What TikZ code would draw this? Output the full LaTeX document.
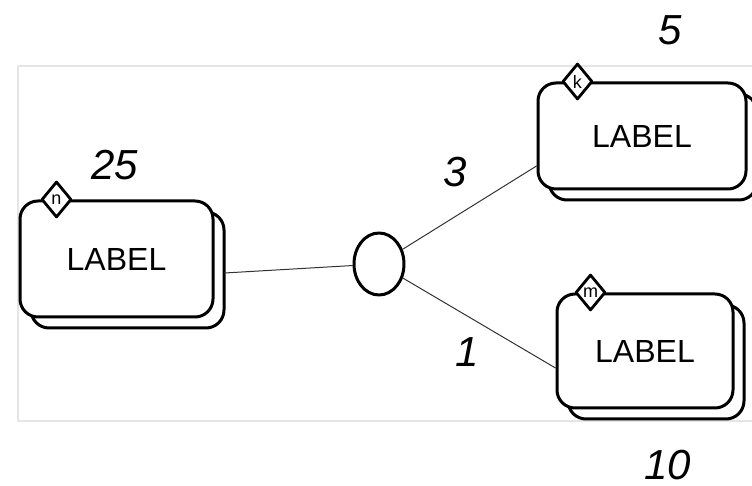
\documentclass[tikz,border=0pt]{standalone}
\usepackage{fontspec}
\setmainfont{Liberation Sans}
\usetikzlibrary{shapes.geometric,shadows}
\begin{document}
\begin{tikzpicture}[x=0.5pt, y=-0.5pt, line join=round, line cap=round,
	entity/.style={draw, line width=1.5pt, rounded corners=9pt, fill=white, inner sep=0pt,
		font=\fontsize{16}{18}\selectfont,
		copy shadow={shadow xshift=5.5pt, shadow yshift=-5.5pt, draw=black, fill=white, line width=1.5pt}},
	tag/.style={diamond, draw, line width=1.4pt, fill=white, inner sep=0pt,
		minimum width=15pt, minimum height=18pt, font=\fontsize{9}{10}\selectfont},
	num/.style={font=\fontsize{21}{24}\selectfont\itshape},
	link/.style={draw=black!80, line width=0.5pt}]
	\useasboundingbox (0,0) rectangle (752,486);
	\draw[black!10, line width=0.6pt] (18,66) rectangle (780,421); % khung
	% cac thuc the
	\node[entity, minimum width=96.5pt, minimum height=58pt] (lft) at (116.5,259) {LABEL};
	\node[entity, minimum width=104pt, minimum height=53pt] (top) at (642,136) {LABEL};
	\node[entity, minimum width=88pt, minimum height=57pt] (bot) at (645,351) {LABEL};
	\node[tag] (tn) at ([xshift=19pt]lft.north west) {n};
	\node[tag] (tk) at ([xshift=20.5pt]top.north west) {k};
	\node[tag] (tm) at ([xshift=17.5pt]bot.north west) {m};
	% quan he
	\node[ellipse, draw, line width=1.5pt, fill=white, inner sep=0pt,
		minimum width=25pt, minimum height=31pt] (rel) at (379,264) {};
	\draw[link] ([shift={(5pt,-7pt)}]lft.east) -- (rel);
	\draw[link] (rel) -- ([yshift=-15pt]top.west);
	\draw[link] (rel) -- ([yshift=-8.5pt]bot.west);
	% so luong
	\node[num] (n25) at (115,165) {25};
	\node[num] (n3) at (455,172) {3};
	\node[num] (n5) at (670,30) {5};
	\node[num] (n1) at (467,352) {1};
	\node[num] (n10) at (668,465) {10};
\end{tikzpicture}
\end{document}
